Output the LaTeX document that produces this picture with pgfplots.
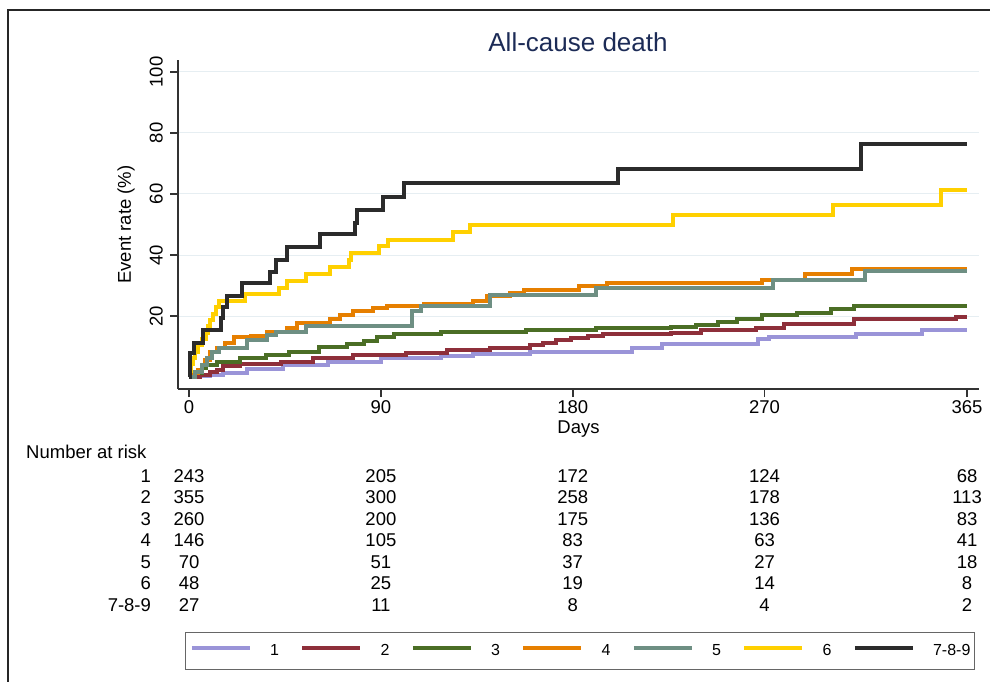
\documentclass[border=0pt]{standalone}
\usepackage{pgfplots}
\usepackage{pgfplotstable}
\pgfplotsset{compat=1.18}
\usepackage{fontspec}
\setmainfont{Liberation Sans}
\definecolor{c1}{HTML}{9A94D8}
\definecolor{c2}{HTML}{8E2F3A}
\definecolor{c3}{HTML}{4B6E25}
\definecolor{c4}{HTML}{E67F00}
\definecolor{c5}{HTML}{6E8F83}
\definecolor{c6}{HTML}{FFD000}
\definecolor{c7}{HTML}{2B2B2B}
\definecolor{gridc}{HTML}{E6EEF2}
\definecolor{titlec}{HTML}{1C2B56}
\newcommand{\bigf}{\fontsize{18.5}{22}\selectfont}
\pgfplotstableread{
d v
0 0
5 0.5
10 0.8
16 1.2
27 2.8
44 3.9
65 5.0
90 6.1
118 6.9
133 7.5
160 8.3
208 9.4
222 10.7
267 12.4
272 13.2
313 14.0
344 15.4
365 15.4
}\sA
\pgfplotstableread{
d v
0 0
5 0.8
10 1.6
13 2.3
16 3.6
24 4.3
43 5.0
58 6.1
77 7.2
102 8.0
121 8.9
141 9.4
160 10.5
166 11.3
172 12.0
179 12.7
187 13.4
194 14.0
226 14.6
240 15.4
266 16.2
279 17.3
312 18.9
360 19.8
365 19.8
}\sB
\pgfplotstableread{
d v
0 0
3 1.5
6 3.0
8 3.9
13 5.0
24 6.1
36 7.2
47 8.3
61 9.7
74 11.0
82 11.9
88 13.2
96 14.0
118 14.8
158 15.4
191 16.0
226 16.3
238 17.0
248 18.1
257 19.2
269 20.3
285 21.1
301 22.2
312 23.3
365 23.3
}\sC
\pgfplotstableread{
d v
0 0
2 1.2
4 2.3
6 4.0
7.5 5.6
9.9 8.3
13 9.4
17 11.3
21 13.0
29 13.4
36.5 14.9
46 16.0
50.5 17.8
66 19.2
71 20.3
77 21.7
86.5 22.5
93 23.3
110 23.9
133 25.0
140 26.6
150.6 27.6
157 28.7
183 29.8
196 30.7
269 31.8
289 33.8
311 35.3
365 35.3
}\sD
\pgfplotstableread{
d v
0 0
3 1.7
6 3.9
8.3 6.1
10.6 8.3
14 9.4
27 12.1
36.5 13.8
41 14.9
55 16.7
104.5 21.6
109 23.3
141 26.9
191 29.1
274 31.8
317 34.8
365 34.8
}\sE
\pgfplotstableread{
d v
0 0
0.3 2.1
1 4.2
2 6.3
3 8.3
4 10.4
6 12.5
8 14.6
9 16.7
10 18.8
11 20.8
12.5 22.9
14 25.0
26 27.1
42 29.3
46 31.5
55 33.8
66 36.0
75 38.3
76 40.5
89 42.8
93.5 45.0
124 47.6
132 49.9
227 53.1
302 56.4
353 61.3
365 61.3
}\sF
\pgfplotstableread{
d v
0 0
0.5 7.8
2.5 11.2
6.7 15.4
15 19.3
16 23.0
17.7 26.7
24.7 30.7
38 34.5
40.8 38.4
45.8 42.5
61.5 46.8
77.9 50.6
78.7 54.8
91.2 59.1
101 63.5
201 68.1
315.3 76.3
365 76.3
}\sG
\newcommand{\riskrow}[7]{%
  \node[anchor=east,inner sep=0pt,font=\bigf] at (axis cs:-17.8,#1) {#2};
  \node[inner sep=0pt,font=\bigf] at (axis cs:0,#1) {#3};
  \node[inner sep=0pt,font=\bigf] at (axis cs:90,#1) {#4};
  \node[inner sep=0pt,font=\bigf] at (axis cs:180,#1) {#5};
  \node[inner sep=0pt,font=\bigf] at (axis cs:270,#1) {#6};
  \node[inner sep=0pt,font=\bigf] at (axis cs:365,#1) {#7};
}
\begin{document}
\begin{tikzpicture}[x=1pt,y=1pt]
\useasboundingbox (0,0) rectangle (990,681);
\draw[line width=2.5pt, color=black!85] (8,-5) -- (8,671) -- (995,671);
\node[anchor=base, font=\fontsize{26}{30}\selectfont, text=titlec] at (578,629) {All-cause death};
\begin{axis}[
  at={(178pt,292pt)}, anchor=south west,
  scale only axis, width=801pt, height=329pt,
  xmin=-5.2, xmax=370.6, ymin=-3.9, ymax=103.9,
  clip=false,
  axis x line*=bottom, axis y line*=left,
  axis line style={-, line width=2pt, black!80},
  xtick={0,90,180,270,365}, ytick={20,40,60,80,100},
  tick align=outside, major tick length=8pt,
  tick style={line width=1.5pt, black!80},
  ymajorgrids, grid style={line width=1pt, color=gridc},
  /pgf/number format/assume math mode=true,
  tick label style={font=\bigf},
  yticklabel style={rotate=90, anchor=south, inner sep=0pt},
  yticklabel shift=7pt,
  xticklabel shift=3pt,
  xticklabel style={inner sep=0pt, anchor=north},
  xlabel={Days}, ylabel={Event rate (\%)},
  label style={font=\bigf},
  xlabel style={at={(axis description cs:0.5,0)}, anchor=north, inner sep=0pt, yshift=-32pt},
  ylabel style={at={(axis description cs:-0.0537,0.5)}, anchor=south, inner sep=0pt},
  every axis plot/.append style={line width=4pt, const plot, line join=miter},
  legend columns=7,
  legend style={at={(axis description cs:0.0087,-0.7386)}, anchor=north west,
    draw=black!60, line width=1.2pt, inner xsep=4pt, inner ysep=12pt,
    font=\fontsize{16}{18}\selectfont, nodes={inner sep=0pt},
    /tikz/every odd column/.append style={column sep=18pt},
    /tikz/every even column/.append style={column sep=18pt}},
  legend image code/.code={\draw[#1, line width=4.5pt] (0pt,3pt) -- (58pt,3pt);},
]
\addplot[c1] table[x=d,y=v] {\sA};
\addlegendentry{\makebox[12pt][l]{1}}
\addplot[c2] table[x=d,y=v] {\sB};
\addlegendentry{\makebox[12pt][l]{2}}
\addplot[c3] table[x=d,y=v] {\sC};
\addlegendentry{\makebox[12pt][l]{3}}
\addplot[c4] table[x=d,y=v] {\sD};
\addlegendentry{\makebox[12pt][l]{4}}
\addplot[c5] table[x=d,y=v] {\sE};
\addlegendentry{\makebox[12pt][l]{5}}
\addplot[c6] table[x=d,y=v] {\sF};
\addlegendentry{\makebox[12pt][l]{6}}
\addplot[c7] table[x=d,y=v] {\sG};
\addlegendentry{7-8-9}
\node[anchor=west, inner sep=0pt, font=\bigf] at (axis cs:-76.5,-24.54) {Number at risk};
\riskrow{-32.34}{1}{243}{205}{172}{124}{68}
\riskrow{-39.45}{2}{355}{300}{258}{178}{113}
\riskrow{-46.49}{3}{260}{200}{175}{136}{83}
\riskrow{-53.54}{4}{146}{105}{83}{63}{41}
\riskrow{-60.58}{5}{70}{51}{37}{27}{18}
\riskrow{-67.63}{6}{48}{25}{19}{14}{8}
\riskrow{-74.67}{7-8-9}{27}{11}{8}{4}{2}
\end{axis}
\end{tikzpicture}
\end{document}
